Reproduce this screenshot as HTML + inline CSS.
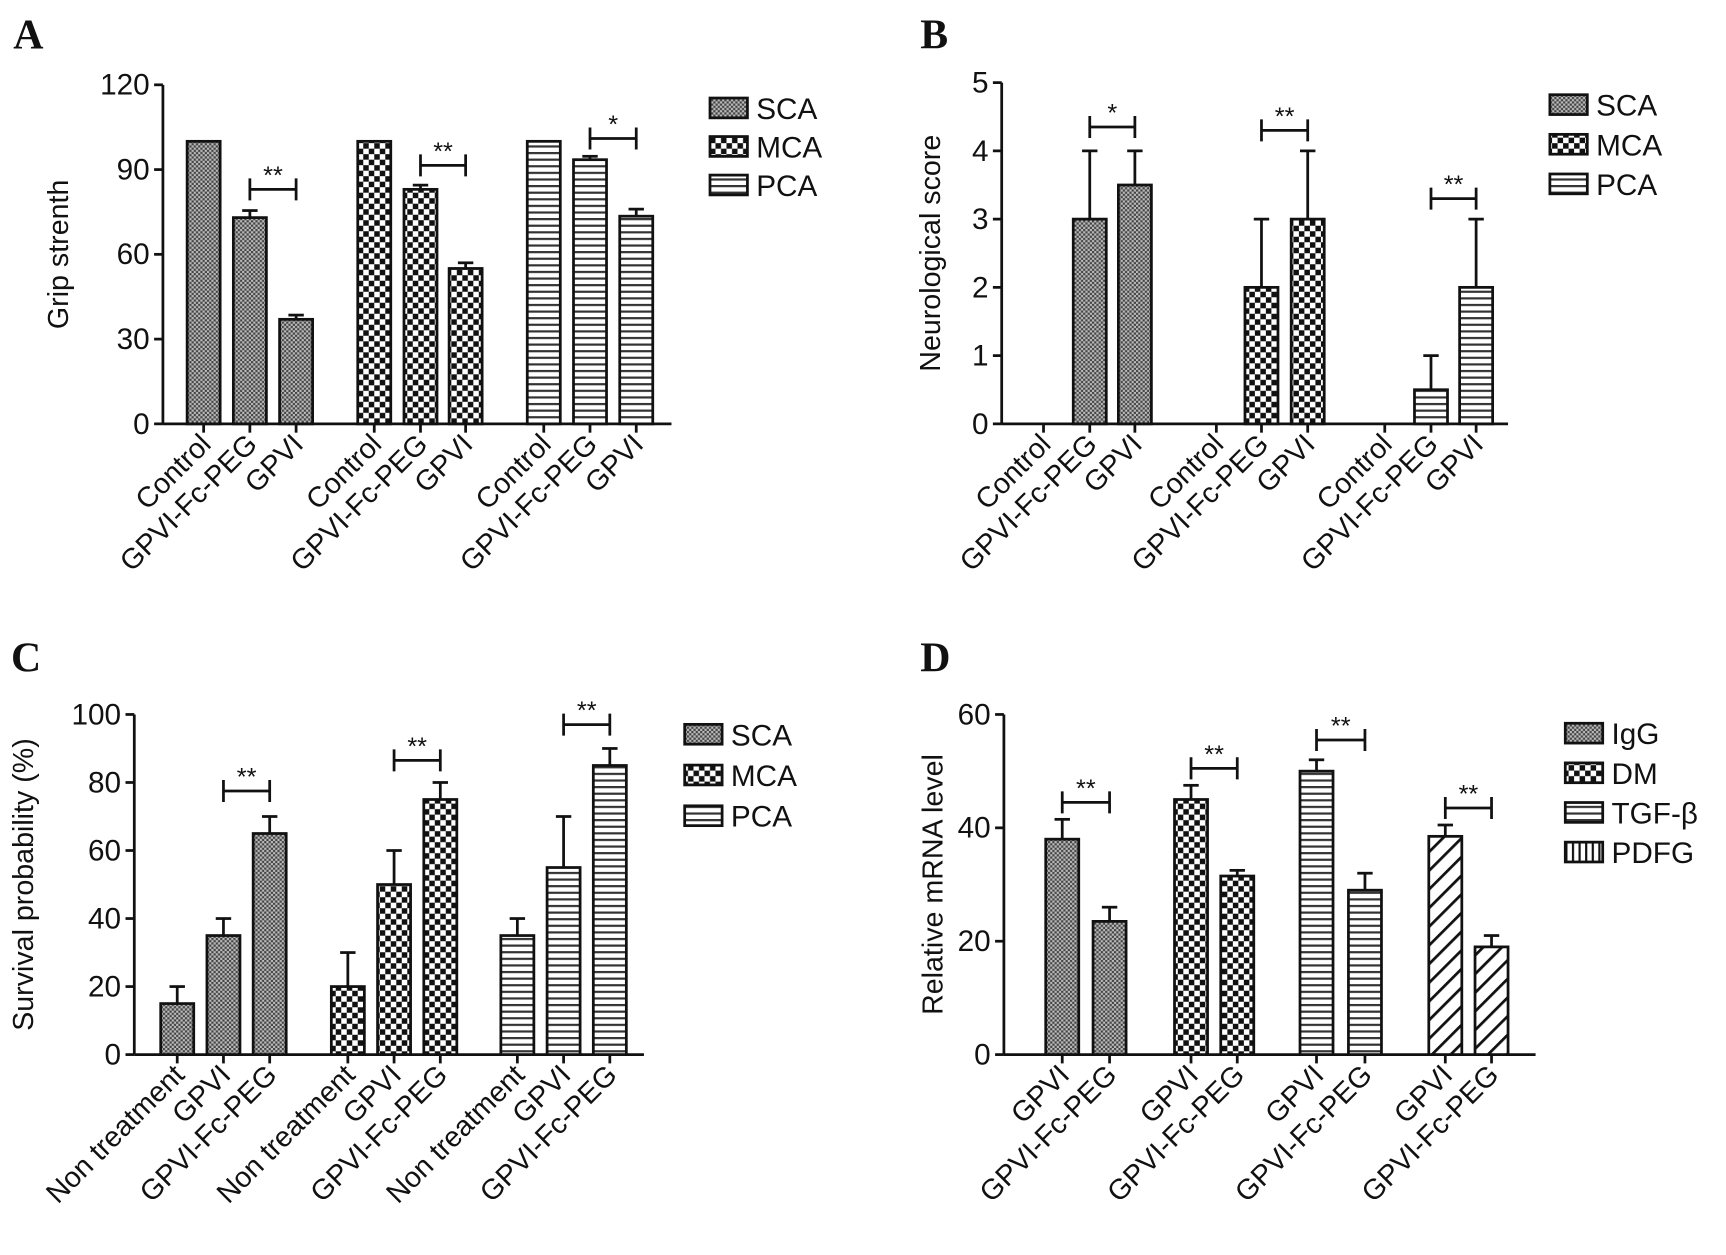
<!DOCTYPE html>
<html><head><meta charset="utf-8">
<style>
html,body{margin:0;padding:0;background:#fff;}
svg{display:block;}
text{font-family:"Liberation Sans",Arial,sans-serif;fill:#111;}
</style></head>
<body>
<svg id="fig" width="1726" height="1255" viewBox="0 0 1568 1140" xmlns="http://www.w3.org/2000/svg">
<defs>
<pattern id="pSCA" width="4" height="4" patternUnits="userSpaceOnUse"><rect width="4" height="4" fill="#bbb"/><rect width="2" height="2" fill="#444"/><rect x="2" y="2" width="2" height="2" fill="#444"/></pattern>
<pattern id="pMCA" width="10" height="10" patternUnits="userSpaceOnUse"><rect width="10" height="10" fill="#fff"/><rect width="5" height="5" fill="#111"/><rect x="5" y="5" width="5" height="5" fill="#111"/></pattern>
<pattern id="pPCA" width="6" height="6" patternUnits="userSpaceOnUse"><rect width="6" height="6" fill="#fff"/><rect y="0" width="6" height="2" fill="#333"/></pattern>
<pattern id="pDIAG" width="12" height="12" patternUnits="userSpaceOnUse" patternTransform="rotate(45)"><rect width="12" height="12" fill="#fff"/><rect width="2.5" height="12" fill="#111"/></pattern>
<pattern id="pVERT" width="6" height="6" patternUnits="userSpaceOnUse"><rect width="6" height="6" fill="#fff"/><rect width="2" height="6" fill="#111"/></pattern>
</defs>
<text x="12" y="44" style="font-family:'Liberation Serif',serif;font-weight:bold;font-size:38px">A</text>
<text x="836" y="44" style="font-family:'Liberation Serif',serif;font-weight:bold;font-size:38px">B</text>
<text x="10" y="610" style="font-family:'Liberation Serif',serif;font-weight:bold;font-size:38px">C</text>
<text x="836" y="610" style="font-family:'Liberation Serif',serif;font-weight:bold;font-size:38px">D</text>
</svg>
<script>
// Panel A data
const aCategories = ["Control","GPVI-Fc-PEG","GPVI","Control","GPVI-Fc-PEG","GPVI","Control","GPVI-Fc-PEG","GPVI"];
const aValues = [100,73,37,100,83,55,100,93.5,73.5];
const aErrors = [0,2.5,1.5,0,1.5,2,0,1.2,2.5];
const aTicks = [0,30,60,90,120];
const aSeries = ["SCA","MCA","PCA"];
const aBrackets = [[1,2,83,"**"],[4,5,91.5,"**"],[7,8,101,"*"]];
// Panel B data
const bCategories = ["Control","GPVI-Fc-PEG","GPVI","Control","GPVI-Fc-PEG","GPVI","Control","GPVI-Fc-PEG","GPVI"];
const bValues = [0,3,3.5,0,2,3,0,0.5,2];
const bErrors = [0,1,0.5,0,1,1,0,0.5,1];
const bTicks = [0,1,2,3,4,5];
const bSeries = ["SCA","MCA","PCA"];
const bBrackets = [[1,2,4.35,"*"],[4,5,4.3,"**"],[7,8,3.3,"**"]];
// Panel C data
const cCategories = ["Non treatment","GPVI","GPVI-Fc-PEG","Non treatment","GPVI","GPVI-Fc-PEG","Non treatment","GPVI","GPVI-Fc-PEG"];
const cValues = [15,35,65,20,50,75,35,55,85];
const cErrors = [5,5,5,10,10,5,5,15,5];
const cTicks = [0,20,40,60,80,100];
const cSeries = ["SCA","MCA","PCA"];
const cBrackets = [[1,2,77.5,"**"],[4,5,86.5,"**"],[7,8,97,"**"]];
// Panel D data
const dCategories = ["GPVI","GPVI-Fc-PEG","GPVI","GPVI-Fc-PEG","GPVI","GPVI-Fc-PEG","GPVI","GPVI-Fc-PEG"];
const dValues = [38,23.5,45,31.5,50,29,38.5,19];
const dErrors = [3.5,2.5,2.5,1,2,3,2,2];
const dTicks = [0,20,40,60];
const dSeries = ["IgG","DM","TGF-β","PDFG"];
const dBrackets = [[0,1,44.5,"**"],[2,3,50.5,"**"],[4,5,55.5,"**"],[6,7,43.5,"**"]];

const NS="http://www.w3.org/2000/svg";
const svg=document.getElementById('fig');
function mk(tag,attrs,parent){const e=document.createElementNS(NS,tag);for(const k in attrs)e.setAttribute(k,attrs[k]);(parent||svg).appendChild(e);return e;}

function panel(p){
  const g=mk('g',{});
  
  
  const ymax=p.ticks[p.ticks.length-1];
  const Y=v=>p.y0-(v/ymax)*(p.y0-p.y1);
  const ya=mk('line',{x1:p.x0,y1:p.y1,x2:p.x0,y2:p.y0,stroke:'#111','stroke-width':2.5},g);
  
  const xa=mk('line',{x1:p.x0,y1:p.y0,x2:p.xEnd,y2:p.y0,stroke:'#111','stroke-width':2.5},g);
  
  p.ticks.forEach(t=>{
    mk('line',{x1:p.x0-8,y1:Y(t),x2:p.x0,y2:Y(t),stroke:'#111','stroke-width':2.5},g);
    const tl=mk('text',{x:p.x0-12,y:Y(t)+9,'text-anchor':'end','font-size':27},g);
    tl.textContent=t;
    
  });
  const yt=mk('text',{x:0,y:0,'text-anchor':'middle','font-size':26,transform:`translate(${p.ylx},${(p.y0+p.y1)/2}) rotate(-90)`},g);
  yt.textContent=p.ylabel;
  
  p.cats.forEach((c,i)=>{
    const cx=p.xs[i], v=p.vals[i], e=p.errs[i];
    const pat=p.pats[Math.floor(i/p.per)];
    if(v>0){
      const r=mk('rect',{x:cx-15,y:Y(v),width:30,height:p.y0-Y(v),fill:`url(#${pat})`,stroke:'#111','stroke-width':2.5},g);
      
      
    }
    if(e>0){
      mk('line',{x1:cx,y1:Y(v),x2:cx,y2:Y(v+e),stroke:'#111','stroke-width':2.5},g);
      const cap=mk('line',{x1:cx-7,y1:Y(v+e),x2:cx+7,y2:Y(v+e),stroke:'#111','stroke-width':2.5},g);
      
    }
    mk('line',{x1:cx,y1:p.y0,x2:cx,y2:p.y0+8,stroke:'#111','stroke-width':2.5},g);
    const xl=mk('text',{x:0,y:0,'text-anchor':'end','font-size':26,transform:`translate(${cx+8},${p.y0+20}) rotate(-45)`},g);
    xl.textContent=c;
    
  });
  p.brackets.forEach(b=>{
    const xa1=p.xs[b[0]],xb=p.xs[b[1]],yy=Y(b[2]);
    const bl=mk('path',{d:`M${xa1},${yy+10}V${yy-10}M${xa1},${yy}H${xb}M${xb},${yy-10}V${yy+10}`,stroke:'#111','stroke-width':2.5,fill:'none'},g);
    
    const st=mk('text',{x:(xa1+xb)/2,y:yy-5,'text-anchor':'middle','font-size':23},g);
    st.textContent=b[3];
    
  });
  p.series.forEach((s,i)=>{
    const ly=p.ly+i*p.ldy;
    const lb=mk('rect',{x:p.lx,y:ly,width:34,height:18,fill:`url(#${p.lpats[i]})`,stroke:'#111','stroke-width':2.5},g);
    
    const lt=mk('text',{x:p.lx+42,y:ly+19,'font-size':27},g);
    lt.textContent=s;
    
  });
}
panel({name:'panel-a-grip-strength',x0:148,xEnd:610,y0:385,y1:77,ticks:aTicks,cats:aCategories,vals:aValues,errs:aErrors,
  xs:[185,227,269,340,382,423,494,536,578],per:3,pats:['pSCA','pMCA','pPCA'],series:aSeries,lpats:['pSCA','pMCA','pPCA'],
  brackets:aBrackets,ylabel:'Grip strenth',ylx:62,lx:645,ly:89,ldy:35});
panel({name:'panel-b-neurological-score',x0:910,xEnd:1370,y0:385,y1:75,ticks:bTicks,cats:bCategories,vals:bValues,errs:bErrors,
  xs:[948,990,1031,1105,1146,1188,1258,1300,1341],per:3,pats:['pSCA','pMCA','pPCA'],series:bSeries,lpats:['pSCA','pMCA','pPCA'],
  brackets:bBrackets,ylabel:'Neurological score',ylx:854,lx:1408,ly:86,ldy:36});
panel({name:'panel-c-survival',x0:122,xEnd:585,y0:958,y1:649,ticks:cTicks,cats:cCategories,vals:cValues,errs:cErrors,
  xs:[161,203,245,316,358,400,470,512,554],per:3,pats:['pSCA','pMCA','pPCA'],series:cSeries,lpats:['pSCA','pMCA','pPCA'],
  brackets:cBrackets,ylabel:'Survival probability (%)',ylx:30,lx:622,ly:658,ldy:37});
panel({name:'panel-d-mrna',x0:912,xEnd:1395,y0:958,y1:649,ticks:dTicks,cats:dCategories,vals:dValues,errs:dErrors,
  xs:[965,1008,1082,1124,1196,1240,1313,1355],per:2,pats:['pSCA','pMCA','pPCA','pDIAG'],series:dSeries,lpats:['pSCA','pMCA','pPCA','pVERT'],
  brackets:dBrackets,ylabel:'Relative mRNA level',ylx:856,lx:1422,ly:657,ldy:36});
</script>
</body></html>
